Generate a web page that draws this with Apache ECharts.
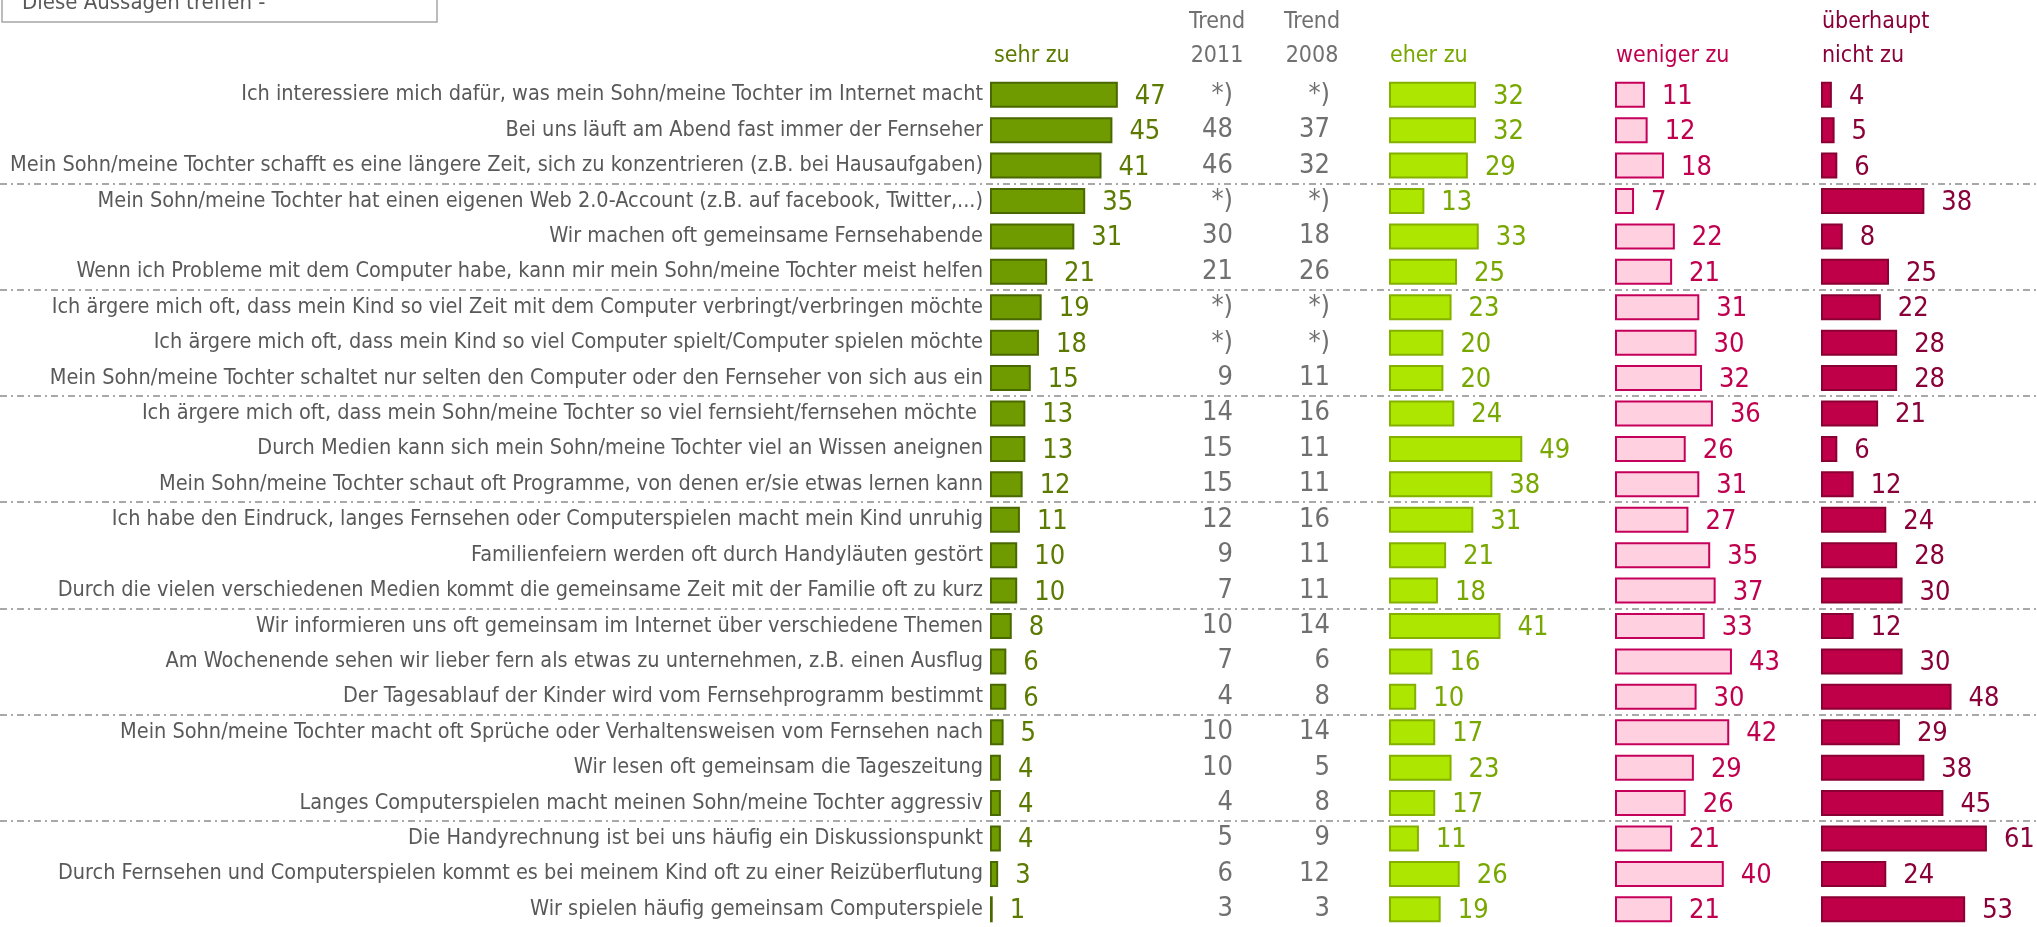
<!DOCTYPE html>
<html>
<head>
<meta charset="utf-8">
<script src="https://cdn.jsdelivr.net/npm/echarts@6/dist/echarts.min.js"></script>
<style>
    html, body { margin: 0; padding: 0; background: #ffffff; }
    #chart { width: 2037px; height: 927px; }
</style>
</head>
<body>
<div id="chart"></div>
<script>
const categories = [
    'Ich interessiere mich dafür, was mein Sohn/meine Tochter im Internet macht',
    'Bei uns läuft am Abend fast immer der Fernseher',
    'Mein Sohn/meine Tochter schafft es eine längere Zeit, sich zu konzentrieren (z.B. bei Hausaufgaben)',
    'Mein Sohn/meine Tochter hat einen eigenen Web 2.0-Account (z.B. auf facebook, Twitter,...)',
    'Wir machen oft gemeinsame Fernsehabende',
    'Wenn ich Probleme mit dem Computer habe, kann mir mein Sohn/meine Tochter meist helfen',
    'Ich ärgere mich oft, dass mein Kind so viel Zeit mit dem Computer verbringt/verbringen möchte',
    'Ich ärgere mich oft, dass mein Kind so viel Computer spielt/Computer spielen möchte',
    'Mein Sohn/meine Tochter schaltet nur selten den Computer oder den Fernseher von sich aus ein',
    'Ich ärgere mich oft, dass mein Sohn/meine Tochter so viel fernsieht/fernsehen möchte ',
    'Durch Medien kann sich mein Sohn/meine Tochter viel an Wissen aneignen',
    'Mein Sohn/meine Tochter schaut oft Programme, von denen er/sie etwas lernen kann',
    'Ich habe den Eindruck, langes Fernsehen oder Computerspielen macht mein Kind unruhig',
    'Familienfeiern werden oft durch Handyläuten gestört',
    'Durch die vielen verschiedenen Medien kommt die gemeinsame Zeit mit der Familie oft zu kurz',
    'Wir informieren uns oft gemeinsam im Internet über verschiedene Themen',
    'Am Wochenende sehen wir lieber fern als etwas zu unternehmen, z.B. einen Ausflug',
    'Der Tagesablauf der Kinder wird vom Fernsehprogramm bestimmt',
    'Mein Sohn/meine Tochter macht oft Sprüche oder Verhaltensweisen vom Fernsehen nach',
    'Wir lesen oft gemeinsam die Tageszeitung',
    'Langes Computerspielen macht meinen Sohn/meine Tochter aggressiv',
    'Die Handyrechnung ist bei uns häufig ein Diskussionspunkt',
    'Durch Fernsehen und Computerspielen kommt es bei meinem Kind oft zu einer Reizüberflutung',
    'Wir spielen häufig gemeinsam Computerspiele'
];

const sehrZu = [47, 45, 41, 35, 31, 21, 19, 18, 15, 13, 13, 12, 11, 10, 10, 8, 6, 6, 5, 4, 4, 4, 3, 1];
const trend2011 = ['*)', 48, 46, '*)', 30, 21, '*)', '*)', 9, 14, 15, 15, 12, 9, 7, 10, 7, 4, 10, 10, 4, 5, 6, 3];
const trend2008 = ['*)', 37, 32, '*)', 18, 26, '*)', '*)', 11, 16, 11, 11, 16, 11, 11, 14, 6, 8, 14, 5, 8, 9, 12, 3];
const eherZu = [32, 32, 29, 13, 33, 25, 23, 20, 20, 24, 49, 38, 31, 21, 18, 41, 16, 10, 17, 23, 17, 11, 26, 19];
const wenigerZu = [11, 12, 18, 7, 22, 21, 31, 30, 32, 36, 26, 31, 27, 35, 37, 33, 43, 30, 42, 29, 26, 21, 40, 21];
const ueberhauptNichtZu = [4, 5, 6, 38, 8, 25, 22, 28, 28, 21, 6, 12, 24, 28, 30, 12, 30, 48, 29, 38, 45, 61, 24, 53];

// separators after every third statement
const groupBreaks = [2.5, 5.5, 8.5, 11.5, 14.5, 17.5, 20.5];

const FONT = '"Liberation Sans Narrow", "DejaVu Sans Condensed", "Roboto Condensed", Roboto, sans-serif';
const GRID_TOP = 77;
const GRID_H = 853;

let myChart = echarts.init(document.getElementById('chart'));

function barGrid(left) {
    return {left: left, top: GRID_TOP, width: 204, height: GRID_H};
}

function valueX(idx) {
    return {type: 'value', gridIndex: idx, min: 0, max: 75, show: false};
}

function hiddenY(idx) {
    return {type: 'category', gridIndex: idx, data: categories, inverse: true, show: false};
}

function trendY(idx, values) {
    return {
        type: 'category', gridIndex: idx, data: categories, inverse: true,
        axisLine: {show: false}, axisTick: {show: false},
        axisLabel: {
            interval: 0, margin: 0, align: 'right', padding: [5, 0, 0, 0],
            color: '#707070', fontSize: 27, fontFamily: FONT,
            formatter: function (v, i) { return String(values[i]); }
        }
    };
}

function barSeries(idx, data, fill, border, labelColor) {
    return {
        type: 'bar', xAxisIndex: idx, yAxisIndex: idx, data: data,
        barWidth: 26,
        itemStyle: {color: fill, borderColor: border, borderWidth: 2},
        label: {
            show: true, position: 'right', distance: 17, offset: [0, 2],
            color: labelColor, fontSize: 27, fontFamily: FONT
        },
        silent: true
    };
}

function header(text, left, top, color, align) {
    return {
        text: text, left: left, top: top, padding: 0,
        textAlign: align || 'left',
        textStyle: {color: color, fontSize: 23, fontWeight: 'normal', fontFamily: FONT, lineHeight: 34}
    };
}

myChart.setOption({
    animation: false,
    title: [
        header('sehr zu', 994, 39, '#5c7a00'),
        header('Trend\n2011', 1217, 5, '#707070', 'center'),
        header('Trend\n2008', 1312, 5, '#707070', 'center'),
        header('eher zu', 1390, 39, '#78a800'),
        header('weniger zu', 1616, 39, '#c0004e'),
        header('überhaupt\nnicht zu', 1822, 5, '#8a0038')
    ],
    graphic: [
        {type: 'rect', shape: {x: 2, y: -12, width: 435, height: 34}, style: {fill: '#ffffff', stroke: '#a6a6a6', lineWidth: 1.5}},
        {type: 'text', x: 22, y: 3, style: {text: 'Diese Aussagen treffen -', fill: '#595959', font: '22px ' + FONT, verticalAlign: 'middle'}}
    ],
    grid: [
        barGrid(990),
        {left: 1233, top: GRID_TOP, width: 1, height: GRID_H},
        {left: 1330, top: GRID_TOP, width: 1, height: GRID_H},
        barGrid(1389),
        barGrid(1615),
        barGrid(1821),
        {left: 0, right: 0, top: GRID_TOP, height: GRID_H}
    ],
    xAxis: [
        valueX(0),
        {type: 'value', gridIndex: 1, show: false},
        {type: 'value', gridIndex: 2, show: false},
        valueX(3),
        valueX(4),
        valueX(5),
        {type: 'value', gridIndex: 6, show: false}
    ],
    yAxis: [
        {
            type: 'category', gridIndex: 0, data: categories, inverse: true,
            axisLine: {show: false}, axisTick: {show: false},
            axisLabel: {interval: 0, margin: 7, padding: [3, 0, 0, 0], color: '#595959', fontSize: 21.5, fontFamily: FONT}
        },
        trendY(1, trend2011),
        trendY(2, trend2008),
        hiddenY(3),
        hiddenY(4),
        hiddenY(5),
        {type: 'value', gridIndex: 6, min: -0.5, max: 23.5, inverse: true, show: false}
    ],
    series: [
        barSeries(0, sehrZu, '#6f9a00', '#4a6800', '#5c7a00'),
        barSeries(3, eherZu, '#ade600', '#84b000', '#78a800'),
        barSeries(4, wenigerZu, '#ffd0e0', '#c5005a', '#c0004e'),
        barSeries(5, ueberhauptNichtZu, '#bf0048', '#8a0033', '#8a0038'),
        {
            type: 'line', xAxisIndex: 6, yAxisIndex: 6, data: [],
            markLine: {
                silent: true, symbol: 'none', label: {show: false},
                lineStyle: {color: '#8c8c8c', width: 1.5, type: [7, 4, 2, 4]},
                data: groupBreaks.map(function (v) { return {yAxis: v}; })
            }
        }
    ]
});
</script>
</body>
</html>
